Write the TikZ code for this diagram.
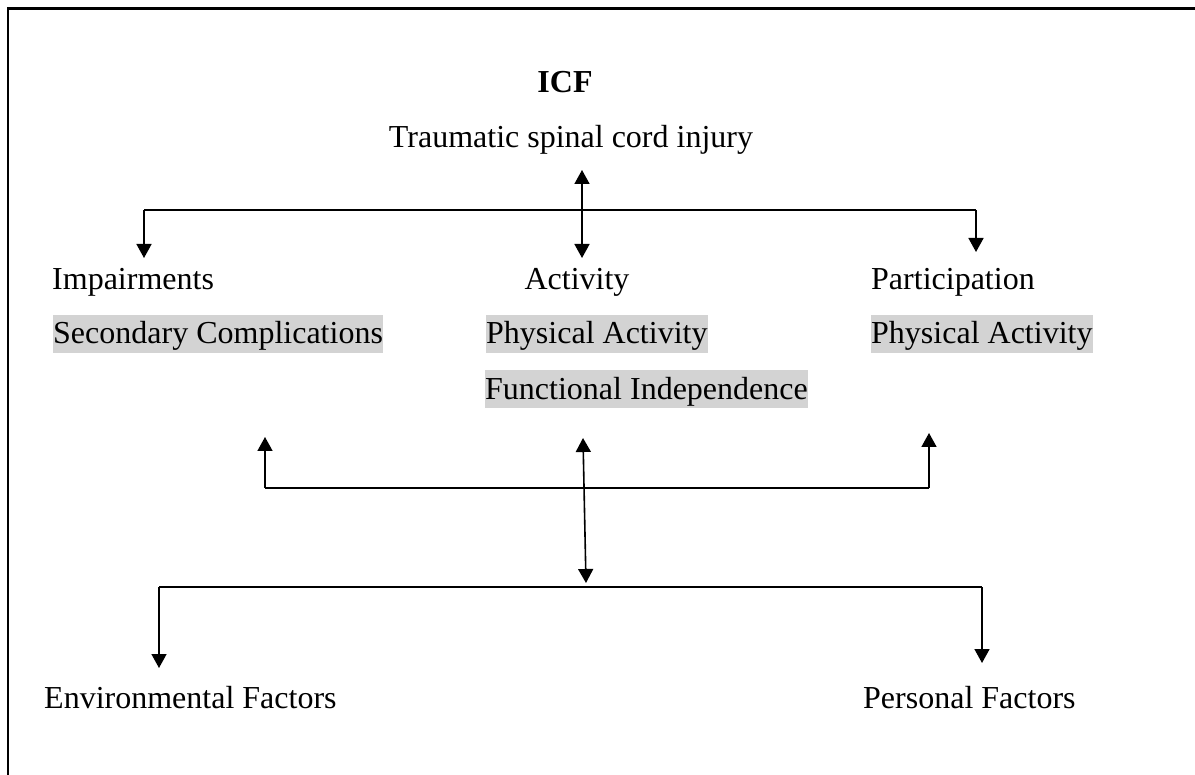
\documentclass[tikz,border=0pt]{standalone}
\usepackage{fontspec}
\setmainfont{Liberation Serif}
\usetikzlibrary{arrows.meta}
\definecolor{boxgray}{RGB}{211,211,211}
\begin{document}
\begin{tikzpicture}[x=1pt,y=-1pt,
  every node/.style={font=\fontsize{32}{38}\selectfont, inner sep=0pt},
  lbl/.style={anchor=base west},
  graybox/.style={anchor=west, fill=boxgray, inner xsep=0pt, inner ysep=1pt, text height=28pt, text depth=8pt},
  conn/.style={line width=1.6pt},
  arr/.style={conn, -{Triangle[length=14pt,width=15pt]}},
  darr/.style={conn, {Triangle[length=14pt,width=15pt]}-{Triangle[length=14pt,width=15pt]}},
  frame/.style={line width=2.5pt}]
\useasboundingbox (0,0) rectangle (1195,775);
% frame (open at right and bottom)
\draw[frame] (8,775) -- (8,8.5) -- (1195,8.5);
% texts
\node[anchor=base, font=\fontsize{32}{38}\selectfont\bfseries] (icf) at (565,93) {ICF};
\node[anchor=base] (tsci) at (571,148) {Traumatic spinal cord injury};
\node[lbl] (imp) at (52,290) {Impairments};
\node[anchor=base] (act) at (577,290) {Activity};
\node[lbl] (par) at (871,290) {Participation};
\node[graybox] (sec) at (53,334) {Secondary Complications};
\node[graybox] (pa1) at (486,334) {Physical Activity};
\node[graybox] (pa2) at (871,334) {Physical Activity};
\node[graybox] (fi) at (485,389.5) {Functional Independence};
\node[lbl] (env) at (44,708) {Environmental Factors};
\node[lbl] (pers) at (863,708) {Personal Factors};
% coordinates of the upper connector
\coordinate (t1) at (582,170);
\coordinate (t2) at (582,258);
\coordinate (hl) at (144,210);
\coordinate (hr) at (976,210);
\coordinate (al) at (144,258);
\coordinate (ar) at (976,252);
\draw[darr] (t1) -- (t2);
\draw[conn] (hl) -- (hr);
\draw[arr] (hl) -- (al);
\draw[arr] (hr) -- (ar);
% middle connector
\coordinate (ml) at (265,488);
\coordinate (mr) at (929,488);
\coordinate (mlt) at (265,437);
\coordinate (mrt) at (929,433);
\draw[conn] (ml) -- (mr);
\draw[arr] (ml) -- (mlt);
\draw[arr] (mr) -- (mrt);
\coordinate (c1) at (583,438);
\coordinate (c2) at (586,583);
\draw[darr] (c1) -- (c2);
% lower connector
\coordinate (ll) at (159,587);
\coordinate (lr) at (982,587);
\coordinate (llb) at (159,668);
\coordinate (lrb) at (982,663);
\draw[conn] (ll) -- (lr);
\draw[arr] (ll) -- (llb);
\draw[arr] (lr) -- (lrb);
\end{tikzpicture}
\end{document}
